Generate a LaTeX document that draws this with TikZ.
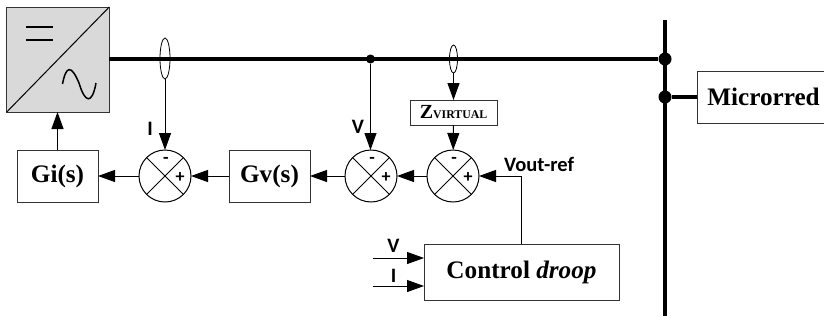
\documentclass[tikz,border=0pt]{standalone}
\usepackage{fontspec}
\setmainfont{Liberation Serif}
\newfontfamily\labelfont{Carlito}
\usetikzlibrary{arrows.meta,calc,positioning,shapes.geometric}

\begin{document}
\begin{tikzpicture}[
      x=1pt, y=-1pt,
      box/.style={draw=black!80, line width=1pt, minimum width=81pt,
        minimum height=52pt, align=center, inner sep=0pt, outer sep=0pt,
        font=\fontsize{25.2}{28}\selectfont\bfseries},
      sumnode/.style={circle, draw=black, line width=1pt, minimum size=52pt,
        inner sep=0pt, outer sep=0pt, path picture={
          \draw[line width=1pt] (path picture bounding box.north west) --
            (path picture bounding box.south east);
          \draw[line width=1pt] (path picture bounding box.north east) --
            (path picture bounding box.south west);}},
      sensor/.style={ellipse, draw=black, line width=0.8pt, inner sep=0pt, outer sep=0pt},
      junction/.style={circle, fill=black, inner sep=0pt},
      signtext/.style={font=\labelfont\fontsize{18}{18}\selectfont\bfseries, inner sep=0pt},
      tagtext/.style={font=\labelfont\fontsize{20.5}{20}\selectfont\bfseries, inner sep=0pt},
      arrow/.style={-{Triangle[length=17pt, width=12pt]}, line width=1pt, draw=black},
      bus/.style={line width=4pt, draw=black}
    ]
    \useasboundingbox (0,0) rectangle (824,327);

    \node[draw=black!80, line width=1pt, fill=black!15, minimum width=102.5pt,
      minimum height=105pt, inner sep=0pt, outer sep=0pt] (conv) at (58,59.5) {};
    \draw[line width=1pt] (conv.south west) -- (conv.north east);
    \draw[line width=1.2pt] (26,27) -- (53,27) (26,40) -- (53,40);
    \draw[line width=1.5pt] (62.5,84) .. controls (66,66) and (71,64) .. (79,83)
      .. controls (85,103) and (92,105) .. (96,83);

    \coordinate (busTop) at (665,20);
    \coordinate (busBottom) at (665,316);
    \node[junction, minimum size=9pt] (tapV) at (370.5,59) {};
    \node[junction, minimum size=13pt] (tapConv) at (665,59) {};
    \node[junction, minimum size=13pt] (tapGrid) at (665,97) {};
    \node[box, minimum width=133pt] (grid) at (763.5,97) {Microrred};
    \draw[bus] (conv.east |- tapConv) -- (tapConv);
    \draw[bus] (busTop) -- (busBottom);
    \draw[bus] (tapGrid) -- (grid);

    \node[box] (gi) at (57.5,176) {Gi(s)};
    \node[sumnode, right=41pt of gi] (sumI) {};
    \node[box, right=38pt of sumI] (gv) {Gv(s)};
    \node[sumnode, right=35pt of gv] (sumV) {};
    \node[sumnode, right=30pt of sumV] (sumZ) {};
    \node[box, minimum width=87pt, minimum height=25pt] (zvirt) at (453.5,112.5)
      {\fontsize{20}{20}\selectfont Z\fontsize{11.8}{14}\selectfont VIRTUAL};
    \node[box, minimum width=195pt, minimum height=56pt] (droop) at (521.5,272)
      {Control \textit{droop}};

    \node[sensor, minimum width=10pt, minimum height=41pt] (sensI) at (165,58.5) {};
    \node[sensor, minimum width=8pt, minimum height=28pt] (sensZ) at (453.5,59) {};

    \foreach \s in {sumI,sumV,sumZ} {
      \node[signtext] (\s minus) at ($(\s)+(1,-16)$) {-};
      \node[signtext] (\s plus) at ($(\s)+(15,1.5)$) {+};
    }

    \node[tagtext] (tagI) at (150,129) {I};
    \node[tagtext] (tagV) at (358,127) {V};
    \node[tagtext, anchor=west] (tagRef) at (504,164) {Vout-ref};
    \node[tagtext] (tagVin) at (393.5,246) {V};
    \node[tagtext] (tagIin) at (393.5,276) {I};

    \coordinate (inV) at (373,258);
    \coordinate (inI) at (373,286);

    \draw[arrow] (gi) -- (gi |- conv.south);
    \draw[arrow] (sumI) -- (gi);
    \draw[arrow] (gv) -- (sumI);
    \draw[arrow] (sumV) -- (gv);
    \draw[arrow] (sumZ) -- (sumV);
    \draw[arrow] (sensI) -- (sumI);
    \draw[arrow] (tapV) -- (tapV |- sumV.north);
    \draw[arrow] (sensZ) -- (zvirt);
    \draw[arrow] (zvirt) -- (sumZ);
    \draw[arrow] (droop.north) |- (sumZ.east);
    \draw[arrow] (inV) -- (inV -| droop.west);
    \draw[arrow] (inI) -- (inI -| droop.west);
  \end{tikzpicture}
\end{document}
